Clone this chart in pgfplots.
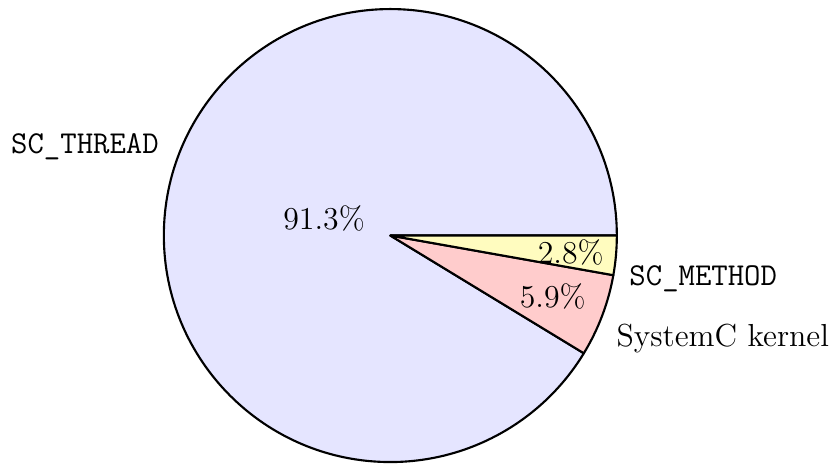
\documentclass[border=0pt]{standalone}
\usepackage{pgfplots}
\usepackage{pgfplotstable}
\pgfplotsset{compat=1.18}

% shares of simulation time (percent)
\pgfplotstableread{
label value
thread 91.3
kernel 5.9
method 2.8
}\piedata
\pgfplotstablegetelem{0}{value}\of\piedata \let\vA\pgfplotsretval
\pgfplotstablegetelem{1}{value}\of\piedata \let\vB\pgfplotsretval
\pgfplotstablegetelem{2}{value}\of\piedata \let\vC\pgfplotsretval
\pgfmathsetmacro\aA{3.6*\vA}
\pgfmathsetmacro\aB{\aA+3.6*\vB}

\begin{document}%
\fontsize{12}{14.4}\selectfont%
\begin{tikzpicture}
    \begin{axis}[
        x=1cm, y=1cm,
        xmin=-5.17, xmax=5.81,
        ymin=-3.03, ymax=3.12,
        hide axis, clip=false,
    ]
    \path (axis cs:-5.17,-3.03) rectangle (axis cs:5.81,3.12);
    % slices, counter-clockwise from 0 degrees
    \filldraw[fill=blue!10, draw=black, thick, line join=round]
        (axis cs:0,0) -- (axis cs:3,0) arc[start angle=0, end angle=\aA, radius=3cm] -- cycle;
    \filldraw[fill=red!20, draw=black, thick, line join=round]
        (axis cs:0,0) -- ++(\aA:3cm) arc[start angle=\aA, end angle=\aB, radius=3cm] -- cycle;
    \filldraw[fill=yellow!25, draw=black, thick, line join=round]
        (axis cs:0,0) -- ++(\aB:3cm) arc[start angle=\aB, end angle=360, radius=3cm] -- cycle;
    % values
    \node at (axis cs:-0.878,0.232) {$\pgfmathprintnumber[fixed,precision=1,fixed zerofill]{\vA}\%$};
    \node at (axis cs:2.15,-0.80) {$\pgfmathprintnumber[fixed,precision=1,fixed zerofill]{\vB}\%$};
    \node at (axis cs:2.39,-0.225) {$\pgfmathprintnumber[fixed,precision=1,fixed zerofill]{\vC}\%$};
    % names
    \node[anchor=base east, inner sep=0pt] at (axis cs:-3.06,1.093) {\texttt{SC\_THREAD}};
    \node[anchor=base west, inner sep=0pt] at (axis cs:3.16,-0.656) {\texttt{SC\_METHOD}};
    \node[anchor=base west, inner sep=0pt] at (axis cs:2.99,-1.47) {SystemC kernel};
    \end{axis}
\end{tikzpicture}
\end{document}
